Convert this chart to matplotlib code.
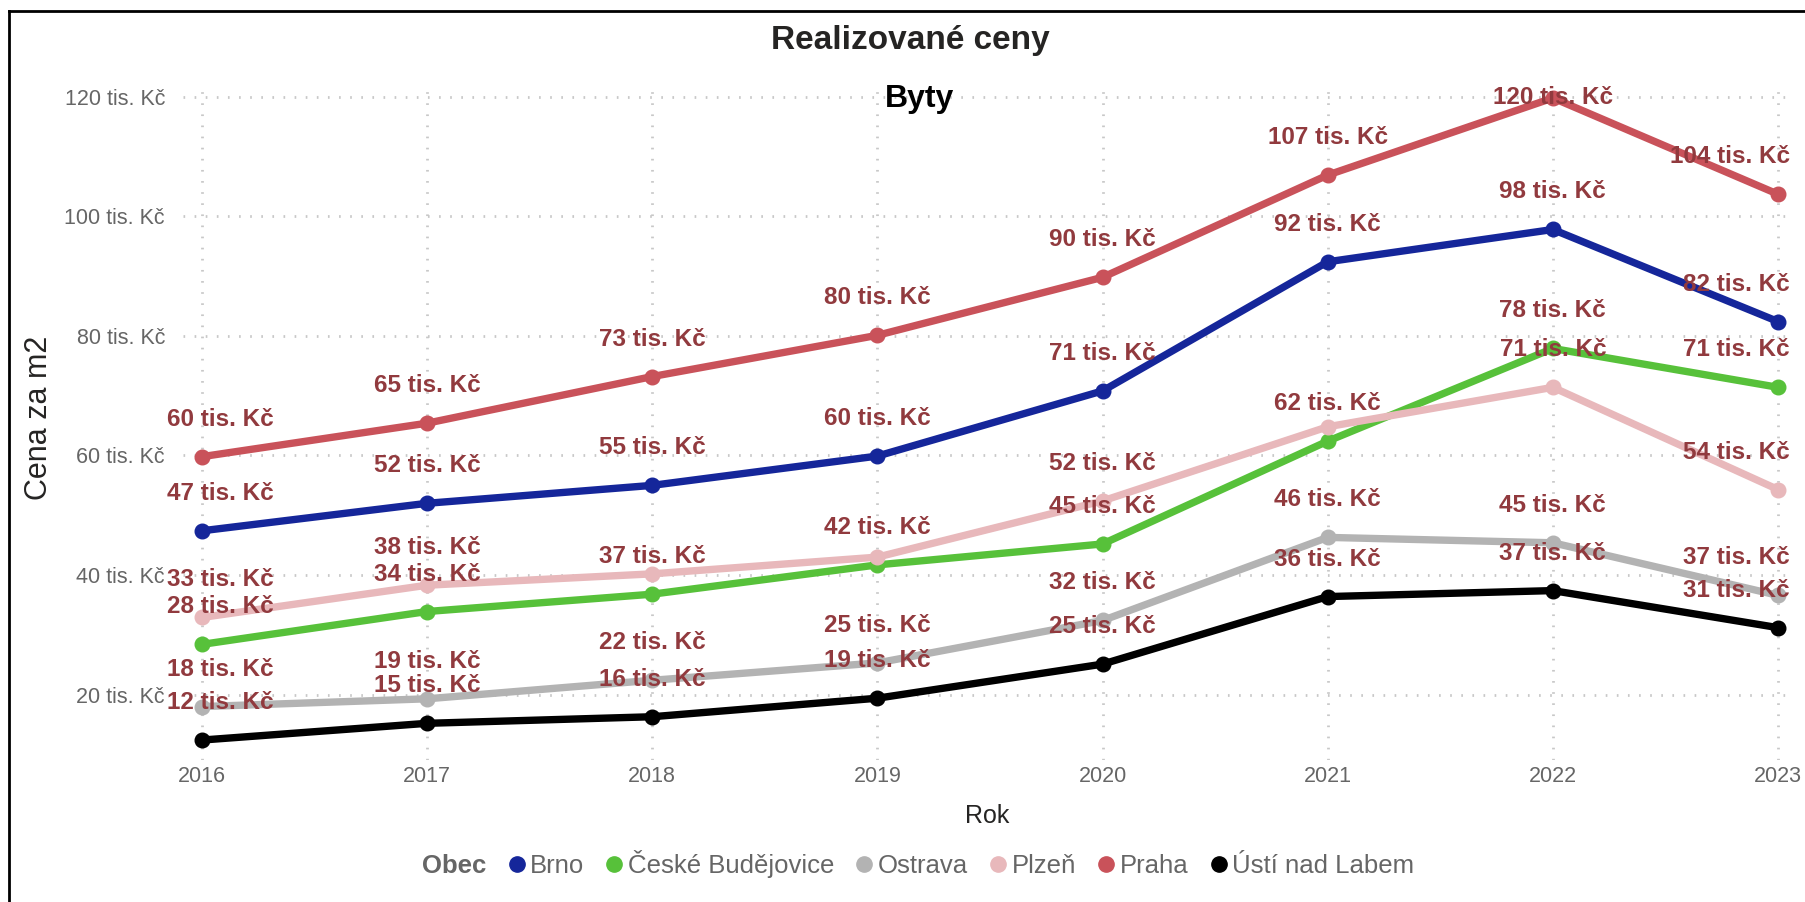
"""
Realizované ceny - Byty (line chart with data labels)
"""

import matplotlib
matplotlib.use("Agg")
import matplotlib.pyplot as plt
from matplotlib.lines import Line2D

# ==================== Data ====================

years = [2016, 2017, 2018, 2019, 2020, 2021, 2022, 2023]

brno = [47.4, 52.0, 55.0, 59.9, 70.8, 92.4, 97.8, 82.4]
ceske_budejovice = [28.4, 33.9, 36.8, 41.7, 45.2, 62.4, 77.9, 71.4]
ostrava = [18.0, 19.3, 22.4, 25.3, 32.4, 46.3, 45.4, 36.6]
plzen = [32.9, 38.3, 40.2, 43.0, 52.4, 64.8, 71.4, 54.3]
praha = [59.8, 65.4, 73.2, 80.1, 89.8, 106.9, 119.8, 103.7]
usti = [12.4, 15.2, 16.3, 19.4, 25.1, 36.4, 37.4, 31.2]

series_names = ["Brno", "České Budějovice", "Ostrava", "Plzeň", "Praha", "Ústí nad Labem"]
series_values = [brno, ceske_budejovice, ostrava, plzen, praha, usti]
series_colors = ["#15269a", "#57c13a", "#b3b3b3", "#e8b8bb", "#c9525a", "#000000"]

# labels the original chart hides (overlap) or draws on the point (no room above)
hidden_labels = [("Plzeň", 2018), ("Plzeň", 2019), ("Plzeň", 2021)]
labels_on_point = [("Praha", 2022)]

y_ticks = [20, 40, 60, 80, 100, 120]
y_tick_labels = [f"{v} tis. Kč" for v in y_ticks]

# ==================== Style ====================

font = ["Liberation Sans", "DejaVu Sans"]
label_color = "#913a3e"
tick_color = "#666666"
grid_kw = dict(color="#c8c8c8", linewidth=2.0, linestyle=(0, (0.6, 3.4)))

fig = plt.figure(figsize=(18.06, 9.02), dpi=100)
ax = fig.add_axes([0.1013, 0.157, 0.8907, 0.745])

# gridlines
for v in y_ticks:
    ax.axhline(v, zorder=0, **grid_kw)
for yr in years:
    ax.axvline(yr, zorder=0, **grid_kw)

# lines + markers + data labels
for name, vals, col in zip(series_names, series_values, series_colors):
    ax.plot(years, vals, color=col, linewidth=5.3, marker="o", markersize=10.5,
            solid_capstyle="round", zorder=3)
    for yr, v in zip(years, vals):
        if (name, yr) in hidden_labels:
            continue
        dy = 0 if (name, yr) in labels_on_point else 27
        # first / last labels are pushed inside the plot area
        if yr == years[0]:
            dx, ha = -25, "left"
        elif yr == years[-1]:
            dx, ha = 8.5, "right"
        else:
            dx, ha = 0, "center"
        ax.annotate(f"{round(v)} tis. Kč", (yr, v), xytext=(dx, dy),
                    textcoords="offset points", ha=ha, va="center",
                    fontsize=17.5, fontweight="bold", color=label_color,
                    family=font, zorder=5)

ax.set_xlim(2015.916, 2023.06)
ax.set_ylim(9.0, 121.4)
ax.set_xticks(years)
ax.set_xticklabels([str(y) for y in years], family=font, fontsize=15.5, color=tick_color)
ax.set_yticks(y_ticks)
ax.set_yticklabels(y_tick_labels, family=font, fontsize=15.5, color=tick_color)
ax.tick_params(axis="both", length=0)
ax.tick_params(axis="y", pad=13)
ax.tick_params(axis="x", pad=4)
for s in ax.spines.values():
    s.set_visible(False)

ax.set_xlabel("Rok", family=font, fontsize=18, color="#252423", labelpad=12)
fig.text(39 / 1806, 0.537, "Cena za m2", rotation=90, ha="center", va="center",
         family=font, fontsize=22, color="#252423")

# titles
fig.text(0.504, 1 - 40 / 902, "Realizované ceny", ha="center", va="center",
         fontsize=24, fontweight="bold", color="#252423", family=font)
fig.text(0.509, 1 - 99 / 902, "Byty", ha="center", va="center",
         fontsize=23, fontweight="bold", color="#000000", family=font)

# legend at the bottom, "Obec" as a bold first entry
handles = [Line2D([], [], linestyle="none", marker=None)]
labels = ["Obec"]
for name, col in zip(series_names, series_colors):
    handles.append(Line2D([], [], linestyle="none", marker="o", markersize=11, color=col))
    labels.append(name)
leg = fig.legend(handles, labels, loc="center", bbox_to_anchor=(0.502, 1 - 864 / 902),
                 ncol=7, frameon=False, handlelength=0.75, handletextpad=0.15,
                 columnspacing=0.8, prop={"family": font, "size": 18.5})
for i, t in enumerate(leg.get_texts()):
    t.set_color(tick_color)
    if i == 0:
        t.set_fontweight("bold")

# frame lines on the left and top edge
fig.add_artist(Line2D([9 / 1806, 9 / 1806], [0, 1 - 11 / 902], transform=fig.transFigure,
                      color="black", linewidth=2))
fig.add_artist(Line2D([9 / 1806, 1], [1 - 11 / 902, 1 - 11 / 902], transform=fig.transFigure,
                      color="black", linewidth=2))

fig.savefig("out.png", dpi=100, facecolor="white")
